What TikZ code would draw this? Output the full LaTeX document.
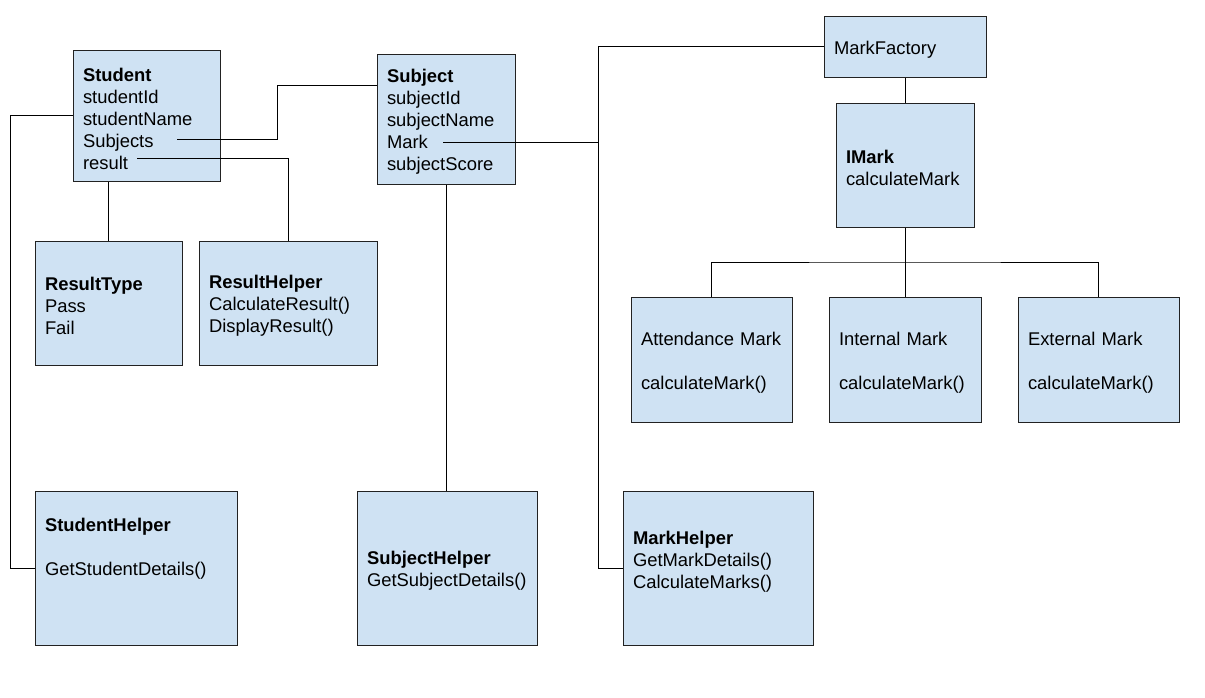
\documentclass[tikz,border=0pt]{standalone}
\usepackage{fontspec}
\setmainfont{Liberation Sans}
\usetikzlibrary{calc}
\definecolor{boxfill}{HTML}{CFE2F3}
\definecolor{boxline}{HTML}{222222}
\tikzset{
  cls/.style={draw=boxline, fill=boxfill, line width=0.75pt, rectangle, inner xsep=7.5pt, inner ysep=0pt,
    align=left, font=\fontsize{13.8}{16.5}\selectfont, anchor=center,
    execute at begin node={\rule{0pt}{14.4pt}}},
  conn/.style={draw=black, line width=0.75pt}
}
\begin{document}
\begin{tikzpicture}[x=0.75pt,y=-0.75pt]
\useasboundingbox[fill=white] (0,0) rectangle (1205,697);
% boxes
\node[cls, text width=95.25pt, minimum width=110.25pt, minimum height=98.25pt] (student) at (146.5,115.5)
  {\textbf{Student}\\studentId\\studentName\\Subjects\\result};
\node[cls, text width=88.5pt, minimum width=103.5pt, minimum height=97.5pt] (subject) at (446,119)
  {\textbf{Subject}\\subjectId\\subjectName\\Mark\\subjectScore};
\node[cls, text width=106.5pt, minimum width=121.5pt, minimum height=45.75pt] (markfactory) at (905,46.5)
  {MarkFactory};
\node[cls, text width=88.5pt, minimum width=103.5pt, minimum height=93pt] (imark) at (905,165)
  {\textbf{IMark}\\calculateMark};
\node[cls, text width=95.25pt, minimum width=110.25pt, minimum height=93pt] (resulttype) at (108.5,303)
  {\textbf{ResultType}\\Pass\\Fail};
\node[cls, text width=118.5pt, minimum width=133.5pt, minimum height=93pt] (resulthelper) at (288,303)
  {\textbf{ResultHelper}\\CalculateResult()\\DisplayResult()};
\node[cls, text width=105.75pt, minimum width=120.75pt, minimum height=93.75pt] (attendance) at (711.5,359.5)
  {Attendance Mark\\[16.5pt]calculateMark()};
\node[cls, text width=99pt, minimum width=114pt, minimum height=93.75pt] (internal) at (905,359.5)
  {Internal Mark\\[16.5pt]calculateMark()};
\node[cls, text width=105.75pt, minimum width=120.75pt, minimum height=93.75pt] (external) at (1098.5,359.5)
  {External Mark\\[16.5pt]calculateMark()};
\node[cls, text width=136.5pt, minimum width=151.5pt, minimum height=115.5pt] (studenthelper) at (136,568)
  {\textbf{StudentHelper}\\[16.5pt]GetStudentDetails()\\[19.5pt]\mbox{}};
\node[cls, text width=120pt, minimum width=135pt, minimum height=115.5pt] (subjecthelper) at (447,568)
  {\textbf{SubjectHelper}\\GetSubjectDetails()};
\node[cls, text width=127.5pt, minimum width=142.5pt, minimum height=115.5pt] (markhelper) at (718,568)
  {\textbf{MarkHelper}\\GetMarkDetails()\\CalculateMarks()\\[0pt]\mbox{}};
% connector end points inside text
\coordinate (subjA) at (177,139);
\coordinate (resA) at (137,158);
\coordinate (markA) at (443,142);
\coordinate (bus) at (905,262);
\coordinate (spine) at (598,142);
% connectors
\draw[conn] (student.west) -- ++(-62,0) |- (studenthelper.west);
\draw[conn] (subjA) -- (277,139) |- ($(subject.north west)+(0,32)$);
\draw[conn] (resA) -| (resulthelper.north);
\draw[conn] (resulttype.north) -- (resulttype.north |- student.south);
\draw[conn] (markA) -- (spine);
\draw[conn] (markfactory.west) -| (spine) |- (markhelper.west);
\draw[conn] (subject.south) -- (subject.south |- subjecthelper.north);
\draw[conn] (markfactory.south) -- (imark.north);
\draw[conn] (imark.south) -- (internal.north);
\draw[conn] (attendance.north) |- (bus) -| (external.north);
\end{tikzpicture}
\end{document}
